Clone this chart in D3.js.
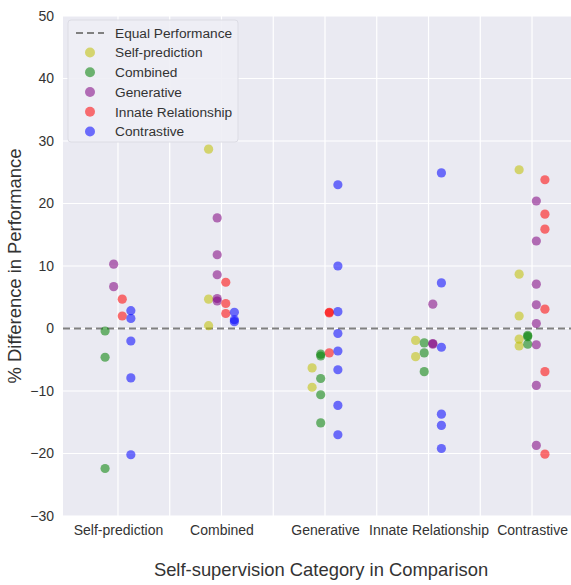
<!DOCTYPE html>
<html>
<head>
<meta charset="utf-8">
<script src="https://cdn.jsdelivr.net/npm/d3@7"></script>
<style>
  body { margin: 0; background: #ffffff; }
  svg { display: block; font-family: "Liberation Sans", Arial, sans-serif; }
</style>
</head>
<body>
<svg id="chart" width="571" height="585"></svg>
<script>
// ---------------- data ----------------
const categories = ["Self-prediction", "Combined", "Generative", "Innate Relationship", "Contrastive"];
const seriesNames = ["Self-prediction", "Combined", "Generative", "Innate Relationship", "Contrastive"];
const seriesColors = ["#bfbf00", "#008000", "#800080", "#ff0000", "#0000ff"];
const yTicks = [-30, -20, -10, 0, 10, 20, 30, 40, 50];
const legendLineLabel = "Equal Performance";
const xTitle = "Self-supervision Category in Comparison";
const yTitle = "% Difference in Performance";

// values per series, one list per category (index matches `categories`)
const selfPredictionValues = [
  [],
  [28.7, 4.7, 0.45],
  [-6.3, -9.4],
  [-1.9, -4.5],
  [25.4, 8.7, 2.0, -1.7, -2.8]
];
const combinedValues = [
  [-0.4, -4.6, -22.4],
  [],
  [-4.1, -4.4, -8.0, -10.6, -15.1],
  [-2.3, -3.9, -6.9],
  [-1.1, -1.3, -2.5]
];
const generativeValues = [
  [10.3, 6.7],
  [17.7, 11.8, 8.6, 4.8, 4.4],
  [],
  [3.9, -2.4, -2.5],
  [20.4, 14.0, 7.1, 3.8, 0.8, -2.6, -9.1, -18.7]
];
const innateValues = [
  [4.7, 2.0],
  [7.4, 4.0, 2.4],
  [2.6, 2.5, -3.9],
  [],
  [23.8, 18.3, 15.9, 3.1, -6.9, -20.1]
];
const contrastiveValues = [
  [2.85, 1.6, -2.0, -7.9, -20.2],
  [2.6, 1.4, 1.1],
  [23.0, 10.0, 2.7, -0.8, -3.6, -6.6, -12.3, -17.0],
  [24.9, 7.3, -3.0, -13.7, -15.5, -19.2],
  []
];
const seriesValues = [selfPredictionValues, combinedValues, generativeValues, innateValues, contrastiveValues];

// ---------------- layout ----------------
const svg = d3.select("#chart");
const plot = { left: 63, right: 587, top: 16, bottom: 516 };

const x = d3.scaleLinear().domain([-0.531, 4.531]).range([plot.left, plot.right]);
const y = d3.scaleLinear().domain([-30, 50]).range([plot.bottom, plot.top]);

svg.append("defs").append("clipPath").attr("id", "clip")
  .append("rect")
  .attr("x", plot.left).attr("y", plot.top)
  .attr("width", plot.right - plot.left).attr("height", plot.bottom - plot.top);

// background
svg.append("rect")
  .attr("x", plot.left).attr("y", plot.top)
  .attr("width", plot.right - plot.left).attr("height", plot.bottom - plot.top)
  .attr("fill", "#eaeaf2");

const g = svg.append("g").attr("clip-path", "url(#clip)");

// grid
const xGrid = d3.range(0, 4.01, 0.5);
g.selectAll("line.vg").data(xGrid).join("line")
  .attr("class", "vg")
  .attr("x1", d => x(d)).attr("x2", d => x(d))
  .attr("y1", plot.top).attr("y2", plot.bottom)
  .attr("stroke", "#ffffff").attr("stroke-width", 1.2);
g.selectAll("line.hg").data(yTicks).join("line")
  .attr("class", "hg")
  .attr("x1", plot.left).attr("x2", plot.right)
  .attr("y1", d => y(d)).attr("y2", d => y(d))
  .attr("stroke", "#ffffff").attr("stroke-width", 1.2);

// zero line
g.append("line")
  .attr("x1", plot.left).attr("x2", plot.right)
  .attr("y1", y(0)).attr("y2", y(0))
  .attr("stroke", "#808080").attr("stroke-width", 2)
  .attr("stroke-dasharray", "7,4");

// points
const slotWidth = 0.083;
const points = [];
categories.forEach((cat, ci) => {
  const present = seriesValues.map((s, si) => si).filter(si => seriesValues[si][ci].length > 0);
  present.forEach((si, k) => {
    const off = (k - (present.length - 1) / 2) * slotWidth;
    seriesValues[si][ci].forEach(v => points.push({ ci, si, off, v }));
  });
});
g.selectAll("circle.pt").data(points).join("circle")
  .attr("class", "pt")
  .attr("cx", d => x(d.ci + d.off))
  .attr("cy", d => y(d.v))
  .attr("r", 4.6)
  .attr("fill", d => seriesColors[d.si])
  .attr("fill-opacity", 0.55);

// axes
const yAxis = d3.axisLeft(y).tickValues(yTicks).tickSize(0).tickPadding(9);
const ya = svg.append("g").attr("transform", `translate(${plot.left},0)`).call(yAxis);
ya.select(".domain").remove();
ya.selectAll("text").attr("font-size", 14).attr("fill", "#333").attr("font-family", "Liberation Sans, Arial, sans-serif");

const xAxis = d3.axisBottom(x).tickValues(d3.range(categories.length)).tickFormat(i => categories[i]).tickSize(0).tickPadding(9);
const xa = svg.append("g").attr("transform", `translate(0,${plot.bottom})`).call(xAxis);
xa.select(".domain").remove();
xa.selectAll("text").attr("font-size", 14).attr("fill", "#333").attr("font-family", "Liberation Sans, Arial, sans-serif");

// titles
svg.append("text")
  .attr("x", 321).attr("y", 576)
  .attr("text-anchor", "middle")
  .attr("font-size", 18.4).attr("fill", "#333")
  .text(xTitle);
svg.append("text")
  .attr("transform", `translate(21,${(plot.top + plot.bottom) / 2}) rotate(-90)`)
  .attr("text-anchor", "middle")
  .attr("font-size", 18.4).attr("fill", "#333")
  .text(yTitle);

// legend
const lg = svg.append("g");
lg.append("rect")
  .attr("x", 68).attr("y", 20).attr("width", 170).attr("height", 122)
  .attr("rx", 3)
  .attr("fill", "#eeeef5").attr("fill-opacity", 0.9)
  .attr("stroke", "#dcdce4").attr("stroke-width", 1);
lg.append("line")
  .attr("x1", 76).attr("x2", 104).attr("y1", 33).attr("y2", 33)
  .attr("stroke", "#808080").attr("stroke-width", 2).attr("stroke-dasharray", "7,4");
lg.append("text").attr("x", 115).attr("y", 33).attr("dy", "0.35em")
  .attr("font-size", 13.7).attr("fill", "#333").text(legendLineLabel);
const rowY = d3.scaleLinear().domain([0, 4]).range([52.5, 131.5]);
seriesNames.forEach((name, i) => {
  lg.append("circle").attr("cx", 90).attr("cy", rowY(i)).attr("r", 5)
    .attr("fill", seriesColors[i]).attr("fill-opacity", 0.55);
  lg.append("text").attr("x", 115).attr("y", rowY(i)).attr("dy", "0.35em")
    .attr("font-size", 13.7).attr("fill", "#333").text(name);
});
</script>
</body>
</html>
